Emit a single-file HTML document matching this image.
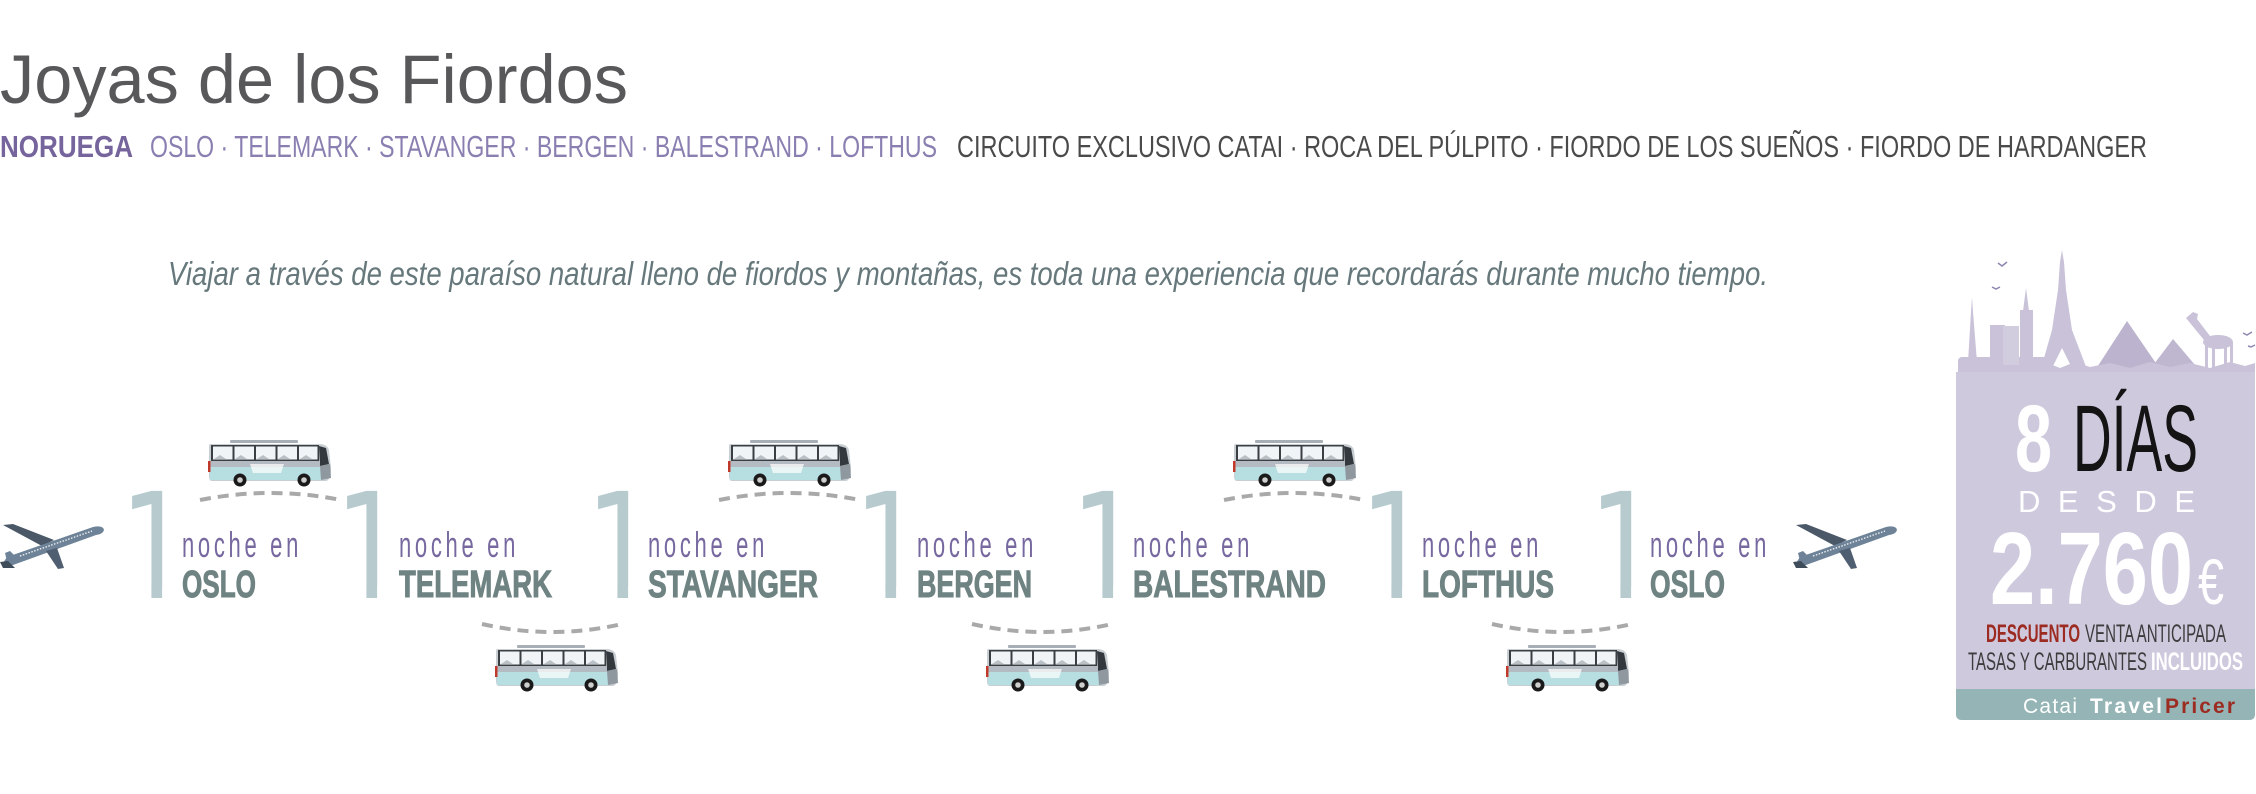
<!DOCTYPE html>
<html>
<head>
<meta charset="utf-8">
<style>
html,body{margin:0;padding:0;background:#fff;}
svg{display:block;}
text{font-family:"Liberation Sans",sans-serif;}
text.one{font-family:"DejaVu Sans",sans-serif;}
</style>
</head>
<body>
<svg width="2256" height="794" viewBox="0 0 2256 794" xmlns="http://www.w3.org/2000/svg">
<defs>
  <g id="bus">
    <rect x="22" y="0" width="68" height="3" rx="1" fill="#a7aeb6"/>
    <path d="M2,4 H111 Q119,4 121,10 L123,28 Q123,40 118,41 H4 Q1,41 1,36 V8 Q1,4 2,4Z" fill="#c9ced3"/>
    <rect x="2" y="27" width="113" height="13" fill="#b7dfe2"/>
    <rect x="3" y="5" width="108" height="16" fill="#3a3f44"/>
    <rect x="5" y="6.5" width="19.5" height="13" fill="#f0f4f7"/>
    <rect x="26.5" y="6.5" width="19.5" height="13" fill="#f0f4f7"/>
    <rect x="48" y="6.5" width="19.5" height="13" fill="#f0f4f7"/>
    <rect x="69.5" y="6.5" width="19.5" height="13" fill="#f0f4f7"/>
    <rect x="91" y="6.5" width="18.5" height="13" fill="#f0f4f7"/>
    <path d="M6,19 l6,-4 l6,4 Z M27,19 l6,-4 l6,4 Z M49,19 l6,-4 l6,4 Z M70,19 l6,-4 l6,4 Z M92,19 l6,-4 l6,4 Z" fill="#b9c0c6"/>
    <path d="M111,6 L118,8 L121,24 L112,26 Z" fill="#32383d"/>
    <rect x="2" y="21" width="110" height="6" fill="#b4bbc2"/>
    <path d="M112,26 L122,24 L123,38 L113,40 Z" fill="#8f979f"/>
    <rect x="0" y="21" width="2.5" height="11" fill="#c0392b"/>
    <path d="M42,24 h34 l-3,9 h-28 Z" fill="#ffffff" opacity="0.7"/>
    <circle cx="32" cy="40" r="6.5" fill="#1a1a1a"/>
    <circle cx="32" cy="40" r="2.8" fill="#cfcfcf"/>
    <circle cx="96" cy="40" r="6.5" fill="#1a1a1a"/>
    <circle cx="96" cy="40" r="2.8" fill="#cfcfcf"/>
  </g>
  <g id="plane">
    <polygon points="3,10 13,9 54,25 42,31" fill="#4a5868"/>
    <path d="M3,48 L7,42 L93,12 Q103,10 104,15 Q103,19 96,20 L13,50 Q6,52 3,48 Z" fill="#6e8398"/>
    <polygon points="5,38 10,36 19,45 7,46" fill="#6e8398"/>
    <polygon points="0,47 8,46 15,53 3,53" fill="#3f4c5a"/>
    <polygon points="46,36 57,33 64,53 58,54" fill="#4f5e70"/>
    <line x1="20" y1="41" x2="92" y2="16" stroke="#ffffff" stroke-width="1.2" stroke-dasharray="1.5 1.5"/>
  </g>
  <clipPath id="oneclip" clipPathUnits="userSpaceOnUse">
    <rect x="-30" y="400" width="130" height="185.5"/>
  </clipPath>
</defs>

<!-- Title -->
<text x="0" y="103" font-size="69" fill="#58585a" textLength="628" lengthAdjust="spacingAndGlyphs">Joyas de los Fiordos</text>

<!-- Subtitle -->
<text x="0" y="157" font-size="31" font-weight="bold" fill="#76649c" textLength="133" lengthAdjust="spacingAndGlyphs">NORUEGA</text>
<text x="150" y="157" font-size="31" fill="#8a7fb0" textLength="787" lengthAdjust="spacingAndGlyphs">OSLO · TELEMARK · STAVANGER · BERGEN · BALESTRAND · LOFTHUS</text>
<text x="957" y="157" font-size="31" fill="#4a4a4a" textLength="1190" lengthAdjust="spacingAndGlyphs">CIRCUITO EXCLUSIVO CATAI · ROCA DEL PÚLPITO · FIORDO DE LOS SUEÑOS · FIORDO DE HARDANGER</text>

<!-- Italic intro -->
<text x="168" y="285" font-size="33" font-style="italic" fill="#66787b" textLength="1600" lengthAdjust="spacingAndGlyphs">Viajar a través de este paraíso natural lleno de fiordos y montañas, es toda una experiencia que recordarás durante mucho tiempo.</text>

<!-- Planes -->
<use href="#plane" x="0" y="515"/>
<use href="#plane" x="1793" y="515"/>

<!-- Dashed arcs -->
<g fill="none" stroke="#a9a9a9" stroke-width="4" stroke-dasharray="11 7">
  <path d="M200,500 Q270.5,486 341,500"/>
  <path d="M719,500 Q789.5,486 860,500"/>
  <path d="M1224,500 Q1294,486 1364,500"/>
  <path d="M482,624 Q552,640 622,624"/>
  <path d="M972,624 Q1042,640 1112,624"/>
  <path d="M1492,624 Q1562,640 1632,624"/>
</g>

<!-- Buses -->
<use href="#bus" x="208" y="440"/>
<use href="#bus" x="728" y="440"/>
<use href="#bus" x="1233" y="440"/>
<use href="#bus" x="495" y="645"/>
<use href="#bus" x="986" y="645"/>
<use href="#bus" x="1506" y="645"/>

<!-- Big 1s (foot clipped, stem continued) -->
<g fill="#b7cbcf">
  <g transform="translate(120,0)"><g clip-path="url(#oneclip)"><text class="one" font-size="147" transform="translate(0,598) scale(0.75,1)">1</text></g><rect x="31.4" y="584" width="10.7" height="14"/></g>
  <g transform="translate(335,0)"><g clip-path="url(#oneclip)"><text class="one" font-size="147" transform="translate(0,598) scale(0.75,1)">1</text></g><rect x="31.4" y="584" width="10.7" height="14"/></g>
  <g transform="translate(586,0)"><g clip-path="url(#oneclip)"><text class="one" font-size="147" transform="translate(0,598) scale(0.75,1)">1</text></g><rect x="31.4" y="584" width="10.7" height="14"/></g>
  <g transform="translate(854,0)"><g clip-path="url(#oneclip)"><text class="one" font-size="147" transform="translate(0,598) scale(0.75,1)">1</text></g><rect x="31.4" y="584" width="10.7" height="14"/></g>
  <g transform="translate(1071,0)"><g clip-path="url(#oneclip)"><text class="one" font-size="147" transform="translate(0,598) scale(0.75,1)">1</text></g><rect x="31.4" y="584" width="10.7" height="14"/></g>
  <g transform="translate(1360,0)"><g clip-path="url(#oneclip)"><text class="one" font-size="147" transform="translate(0,598) scale(0.75,1)">1</text></g><rect x="31.4" y="584" width="10.7" height="14"/></g>
  <g transform="translate(1589,0)"><g clip-path="url(#oneclip)"><text class="one" font-size="147" transform="translate(0,598) scale(0.75,1)">1</text></g><rect x="31.4" y="584" width="10.7" height="14"/></g>
</g>

<!-- noche en -->
<g font-size="36" fill="#77699f" letter-spacing="6">
  <text x="182" y="557" textLength="120" lengthAdjust="spacingAndGlyphs">noche en</text>
  <text x="399" y="557" textLength="120" lengthAdjust="spacingAndGlyphs">noche en</text>
  <text x="648" y="557" textLength="120" lengthAdjust="spacingAndGlyphs">noche en</text>
  <text x="917" y="557" textLength="120" lengthAdjust="spacingAndGlyphs">noche en</text>
  <text x="1133" y="557" textLength="120" lengthAdjust="spacingAndGlyphs">noche en</text>
  <text x="1422" y="557" textLength="120" lengthAdjust="spacingAndGlyphs">noche en</text>
  <text x="1650" y="557" textLength="120" lengthAdjust="spacingAndGlyphs">noche en</text>
</g>

<!-- City names -->
<g font-size="38" font-weight="bold" fill="#6f8383" stroke="#6f8383" stroke-width="1">
  <text x="182" y="597" textLength="74" lengthAdjust="spacingAndGlyphs">OSLO</text>
  <text x="399" y="597" textLength="153" lengthAdjust="spacingAndGlyphs">TELEMARK</text>
  <text x="648" y="597" textLength="170" lengthAdjust="spacingAndGlyphs">STAVANGER</text>
  <text x="917" y="597" textLength="115" lengthAdjust="spacingAndGlyphs">BERGEN</text>
  <text x="1133" y="597" textLength="193" lengthAdjust="spacingAndGlyphs">BALESTRAND</text>
  <text x="1422" y="597" textLength="132" lengthAdjust="spacingAndGlyphs">LOFTHUS</text>
  <text x="1650" y="597" textLength="75" lengthAdjust="spacingAndGlyphs">OSLO</text>
</g>

<!-- Price panel: skyline -->
<g fill="#c9c2d8">
  <rect x="1958" y="357" width="90" height="20" rx="4"/>
  <polygon points="1968,362 1971,312 1972,297 1973,312 1977,362"/>
  <rect x="1990" y="325" width="15" height="40"/>
  <rect x="2003" y="326" width="16" height="39" fill="#d2ccdf"/>
  <rect x="2020" y="310" width="13" height="55"/>
  <polygon points="2023,311 2026,288 2029,311"/>
  <polygon points="2062,250 2060,262 2058,290 2052,330 2040,372 2050,372 2062,348 2074,372 2088,372 2072,330 2066,290 2064,262"/>
  <polygon points="2094,372 2127,321 2162,372" fill="#bcb4ce"/>
  <polygon points="2148,372 2173,339 2201,372" fill="#bfb7d0"/>
  <polygon points="2186,318 2193,312 2198,314 2197,319 2210,336 2204,340"/>
  <ellipse cx="2218" cy="342" rx="15" ry="7"/>
  <rect x="2205" y="342" width="3" height="28"/>
  <rect x="2212" y="344" width="3" height="26"/>
  <rect x="2224" y="344" width="3" height="26"/>
  <rect x="2230" y="342" width="3" height="28"/>
  <polygon points="2040,375 2040,368 2050,364 2060,368 2075,362 2090,367 2110,363 2130,368 2150,362 2170,367 2190,363 2210,368 2230,362 2245,366 2255,363 2255,375"/>
</g>
<g fill="none" stroke="#8f86b0" stroke-width="1.5">
  <path d="M1998,263 l4,3 l5,-4"/>
  <path d="M1992,287 l4,2 l4,-2"/>
  <path d="M2243,333 l4,2 l5,-3"/>
  <path d="M2248,346 l3,1 l4,-2"/>
</g>
<path d="M1956,372 H2255 V714 Q2255,720 2249,720 H1962 Q1956,720 1956,714 Z" fill="#cfc9de"/>
<path d="M1956,689 H2255 V714 Q2255,720 2249,720 H1962 Q1956,720 1956,714 Z" fill="#95b4b5"/>

<!-- Panel texts -->
<text x="2015" y="471" font-size="95" font-weight="bold" fill="#ffffff" textLength="37" lengthAdjust="spacingAndGlyphs">8</text>
<text x="2073" y="471" font-size="95" fill="#141414" textLength="125" lengthAdjust="spacingAndGlyphs">DÍAS</text>
<text x="2018" y="512" font-size="31" fill="#ffffff" textLength="177" lengthAdjust="spacing">DESDE</text>
<text x="1990" y="604" font-size="103" font-weight="bold" fill="#ffffff" textLength="203" lengthAdjust="spacingAndGlyphs">2.760</text>
<text x="2198" y="604" font-size="64" fill="#ffffff" textLength="26" lengthAdjust="spacingAndGlyphs">€</text>
<text x="1986" y="642" font-size="25" font-weight="bold" fill="#9c2b21" textLength="94" lengthAdjust="spacingAndGlyphs">DESCUENTO</text>
<text x="2085" y="642" font-size="25" fill="#3c3c3c" textLength="141" lengthAdjust="spacingAndGlyphs">VENTA ANTICIPADA</text>
<text x="1968" y="670" font-size="25" fill="#3c3c3c" textLength="179" lengthAdjust="spacingAndGlyphs">TASAS Y CARBURANTES</text>
<text x="2151" y="670" font-size="25" font-weight="bold" fill="#ffffff" textLength="92" lengthAdjust="spacingAndGlyphs">INCLUIDOS</text>
<text x="2023" y="713" font-size="21" fill="#ffffff" textLength="54" lengthAdjust="spacing">Catai</text>
<text x="2090" y="713" font-size="21" font-weight="bold" fill="#ffffff" textLength="72" lengthAdjust="spacing">Travel</text>
<text x="2165" y="713" font-size="21" font-weight="bold" fill="#9c2b21" textLength="70" lengthAdjust="spacing">Pricer</text>
</svg>
</body>
</html>
